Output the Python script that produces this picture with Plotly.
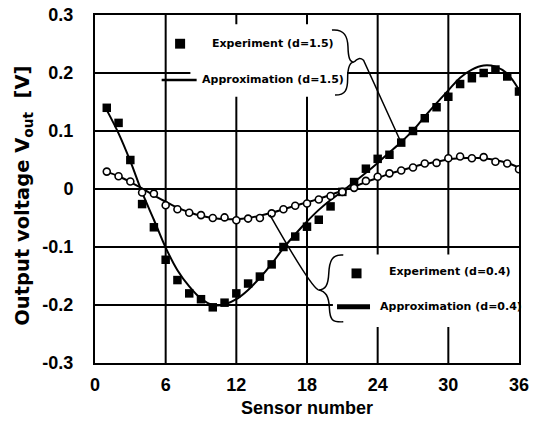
import plotly.graph_objects as go

sensor = list(range(1, 37))

exp_d15 = [0.140, 0.114, 0.050, -0.026, -0.066, -0.122, -0.157, -0.180, -0.190, -0.204,
           -0.196, -0.180, -0.163, -0.151, -0.130, -0.100, -0.082, -0.065, -0.053, -0.030,
           -0.005, 0.012, 0.035, 0.052, 0.059, 0.080, 0.100, 0.122, 0.141, 0.159,
           0.181, 0.191, 0.200, 0.206, 0.194, 0.168]
approx_d15 = [0.136, 0.096, 0.048, -0.006, -0.053, -0.101, -0.140, -0.168, -0.189, -0.200,
              -0.199, -0.190, -0.174, -0.153, -0.129, -0.102, -0.078, -0.056, -0.036, -0.019,
              -0.004, 0.012, 0.028, 0.045, 0.063, 0.081, 0.101, 0.125, 0.148, 0.170,
              0.192, 0.206, 0.213, 0.211, 0.199, 0.171]
exp_d04 = [0.030, 0.022, 0.013, -0.006, -0.008, -0.028, -0.035, -0.041, -0.045, -0.050,
           -0.049, -0.054, -0.051, -0.050, -0.042, -0.035, -0.029, -0.025, -0.018, -0.012,
           -0.005, 0.002, 0.014, 0.021, 0.027, 0.032, 0.037, 0.044, 0.045, 0.053,
           0.056, 0.053, 0.055, 0.047, 0.044, 0.034]
approx_d04 = [0.030, 0.022, 0.012, 0.001, -0.011, -0.022, -0.032, -0.040, -0.046, -0.050,
              -0.052, -0.052, -0.050, -0.046, -0.041, -0.035, -0.029, -0.023, -0.017, -0.010,
              -0.003, 0.004, 0.012, 0.019, 0.026, 0.032, 0.038, 0.043, 0.047, 0.051,
              0.053, 0.054, 0.053, 0.050, 0.045, 0.037]

x_ticks = [0, 6, 12, 18, 24, 30, 36]
y_ticks = [-0.3, -0.2, -0.1, 0, 0.1, 0.2, 0.3]
y_tick_text = ["-0.3", "-0.2", "-0.1", "0", "0.1", "0.2", "0.3"]

LAB = "Liberation Sans"
WIDE = "DejaVu Sans"

fig = go.Figure()
fig.add_trace(go.Scatter(x=sensor, y=approx_d15, mode="lines", line=dict(color="black", width=2, shape="spline"),
                         name="Approximation (d=1.5)", showlegend=False))
fig.add_trace(go.Scatter(x=sensor, y=approx_d04, mode="lines", line=dict(color="black", width=2, shape="spline"),
                         name="Approximation (d=0.4)", showlegend=False))
fig.add_trace(go.Scatter(x=sensor, y=exp_d15, mode="markers",
                         marker=dict(symbol="square", size=8.5, color="black"),
                         name="Experiment (d=1.5)", showlegend=False))
fig.add_trace(go.Scatter(x=sensor, y=exp_d04, mode="markers",
                         marker=dict(symbol="circle", size=7, color="white", line=dict(color="black", width=1.6)),
                         name="Experiment (d=0.4)", showlegend=False))

shapes = []
# gridlines (drawn as shapes so the legend boxes can cover them)
for xv in x_ticks[1:-1]:
    shapes.append(dict(type="line", xref="x", yref="paper", x0=xv, x1=xv, y0=0, y1=1,
                       line=dict(color="black", width=2), layer="below"))
for yv in y_ticks[1:-1]:
    shapes.append(dict(type="line", xref="paper", yref="y", x0=0, x1=1, y0=yv, y1=yv,
                       line=dict(color="black", width=2), layer="below"))
shapes += [
    # white boxes behind legend text (cover gridlines)
    dict(type="rect", xref="x", yref="y", x0=8.1, x1=21.4, y0=0.159, y1=0.284,
         fillcolor="white", line=dict(width=0), layer="below"),
    dict(type="rect", xref="x", yref="y", x0=20.2, x1=36.5, y0=-0.238, y1=-0.113,
         fillcolor="white", line=dict(width=0), layer="below"),
    # upper brace and pointer
    dict(type="path", xref="x", yref="y", layer="above", line=dict(color="black", width=1.5),
         path="M 20.12 0.274 C 21.2 0.276 21.45 0.262 21.48 0.245 C 21.5 0.228 21.6 0.219 22.0 0.219 "
              "C 21.6 0.219 21.45 0.21 21.45 0.19 C 21.45 0.172 21.3 0.162 20.38 0.162"),
    dict(type="path", xref="x", yref="y", layer="above", line=dict(color="black", width=1.5),
         path="M 22.0 0.219 Q 22.4 0.229 22.8 0.222 L 25.9 0.084"),
    # lower brace and pointer
    dict(type="path", xref="x", yref="y", layer="above", line=dict(color="black", width=1.5),
         path="M 21.08 -0.114 C 20.1 -0.112 19.9 -0.125 19.85 -0.145 C 19.8 -0.165 19.6 -0.174 18.96 -0.174 "
              "C 19.6 -0.176 19.85 -0.185 19.9 -0.205 C 19.95 -0.225 20.1 -0.23 21.08 -0.229"),
    dict(type="path", xref="x", yref="y", layer="above", line=dict(color="black", width=1.5),
         path="M 18.96 -0.174 Q 18.3 -0.168 14.86 -0.045"),
    # legend line samples
    dict(type="line", xref="x", yref="y", x0=5.66, x1=8.63, y0=0.188, y1=0.188,
         line=dict(color="black", width=2.5), layer="above"),
    dict(type="line", xref="x", yref="y", x0=20.55, x1=23.35, y0=-0.203, y1=-0.203,
         line=dict(color="black", width=5), layer="above"),
    # legend marker samples
    dict(type="rect", xref="x", yref="y", x0=6.8, x1=7.65, y0=0.242, y1=0.259,
         fillcolor="black", line=dict(width=0), layer="above"),
    dict(type="rect", xref="x", yref="y", x0=21.78, x1=22.63, y0=-0.154, y1=-0.137,
         fillcolor="black", line=dict(width=0), layer="above"),
]

legend_font = dict(family=WIDE, size=11, color="black")
annotations = [
    dict(x=9.76, y=0.251, xref="x", yref="y", text="<b>Experiment (d=1.5)</b>", showarrow=False,
         xanchor="left", yanchor="middle", font=legend_font),
    dict(x=8.91, y=0.188, xref="x", yref="y", text="<b>Approximation (d=1.5)</b>", showarrow=False,
         xanchor="left", yanchor="middle", font=legend_font),
    dict(x=24.79, y=-0.143, xref="x", yref="y", text="<b>Experiment (d=0.4)</b>", showarrow=False,
         xanchor="left", yanchor="middle", font=legend_font),
    dict(x=24.03, y=-0.203, xref="x", yref="y", text="<b>Approximation (d=0.4)</b>", showarrow=False,
         xanchor="left", yanchor="middle", font=legend_font),
    dict(x=-0.168, y=0.48, xref="paper", yref="paper", textangle=-90,
         text="<b>Output voltage V<sub>out</sub>  [V]</b>", showarrow=False,
         xanchor="center", yanchor="middle", font=dict(family=WIDE, size=19.5, color="black")),
    dict(x=0.5, y=-0.129, xref="paper", yref="paper",
         text="<b>Sensor number</b>", showarrow=False,
         xanchor="center", yanchor="middle", font=dict(family=LAB, size=18, color="black")),
]

# the page body has an 8px margin, so the figure is shrunk by 8px and margins adjusted
fig.update_layout(
    width=529, height=424,
    margin=dict(l=87, r=18, t=7, b=69),
    paper_bgcolor="white", plot_bgcolor="white",
    shapes=shapes, annotations=annotations,
    showlegend=False,
    xaxis=dict(range=[0, 36], tickvals=x_ticks, ticktext=[str(v) for v in x_ticks],
               showgrid=False, zeroline=False, automargin=False,
               showline=True, linecolor="black", linewidth=2, mirror=True,
               ticks="", ticklabelstandoff=4, ticklabeloverflow="allow",
               tickfont=dict(family=LAB, size=18, color="black", weight="bold")),
    yaxis=dict(range=[-0.3, 0.3], tickvals=y_ticks, ticktext=y_tick_text,
               showgrid=False, zeroline=False, automargin=False,
               showline=True, linecolor="black", linewidth=2, mirror=True,
               ticks="", ticklabelstandoff=16, ticklabeloverflow="allow",
               tickfont=dict(family=LAB, size=18, color="black", weight="bold")),
)

fig.write_html("out.html")
